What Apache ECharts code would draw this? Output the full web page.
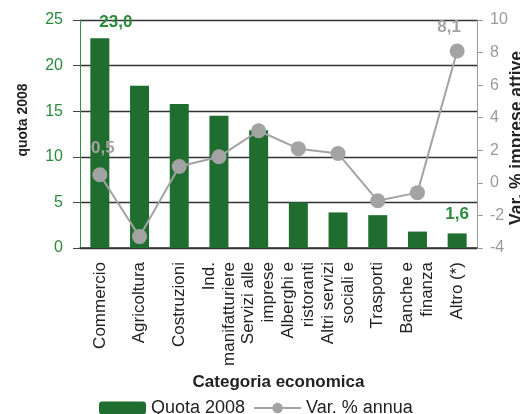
<!DOCTYPE html>
<html>
<head>
<meta charset="utf-8">
<script src="https://cdn.jsdelivr.net/npm/echarts@6/dist/echarts.min.js"></script>
<style>
  html, body { margin: 0; padding: 0; background: #fff; }
  #chart { width: 520px; height: 414px; }
</style>
</head>
<body>
<div id="chart"></div>
<script>
// Economic categories along the x axis
var categories = [
  'Commercio', 'Agricoltura', 'Costruzioni', 'Ind.\nmanifatturiere',
  'Servizi alle\nimprese', 'Alberghi e\nristoranti', 'Altri servizi\nsociali e',
  'Trasporti', 'Banche e\nfinanza', 'Altro (*)'
];
// Share of firms in 2008 (left axis, bars)
var quota2008 = [23.0, 17.8, 15.8, 14.5, 12.9, 5.0, 3.9, 3.6, 1.8, 1.6];
// Annual % change of active firms (right axis, line)
var varAnnua = [0.5, -3.3, 1.0, 1.6, 3.2, 2.1, 1.8, -1.1, -0.6, 8.1];
// Axis ranges
var leftTicks = { min: 0, max: 25, interval: 5 };
var rightTicks = { min: -4, max: 10, interval: 2 };

var FONT = '"Liberation Sans", Arial, Helvetica, sans-serif';
var GREEN = '#1f6e2f';
var GREEN_TXT = '#2b8a3c';
var GREY = '#a3a3a3';

function comma(v) { return v.toFixed(1).replace('.', ','); }

var last = categories.length - 1;

var barData = quota2008.map(function (v, i) {
  if (i === 0) {
    return { value: v, label: { show: true, offset: [16, -2] } };
  }
  if (i === last) {
    return { value: v, label: { show: true, offset: [0, -6] } };
  }
  return v;
});

var lineData = varAnnua.map(function (v, i) {
  if (i === 0) {
    return { value: v, label: { show: true, offset: [3, -5] } };
  }
  if (i === last) {
    return { value: v, label: { show: true, offset: [-8, -3] } };
  }
  return v;
});

var chart = echarts.init(document.getElementById('chart'));
chart.setOption({
  animation: false,
  textStyle: { fontFamily: FONT },
  grid: { left: 80, right: 43, top: 20, bottom: 166, outerBoundsMode: 'none', containLabel: false },
  legend: {
    left: 94,
    top: 394,
    itemWidth: 47,
    itemHeight: 13,
    itemGap: 8,
    textStyle: { fontFamily: FONT, fontSize: 18, color: '#222' },
    data: ['Quota 2008', 'Var. % annua']
  },
  xAxis: {
    type: 'category',
    data: categories,
    name: 'Categoria economica',
    nameLocation: 'middle',
    nameGap: 124,
    nameTextStyle: { fontFamily: FONT, fontSize: 17, fontWeight: 'bold', color: '#222' },
    axisLine: { show: true, lineStyle: { color: '#333', width: 1.5 } },
    axisTick: { show: false },
    axisLabel: {
      rotate: 90,
      interval: 0,
      margin: 14,
      fontFamily: FONT,
      fontSize: 17,
      lineHeight: 20,
      color: '#222'
    }
  },
  yAxis: [
    {
      type: 'value',
      min: leftTicks.min,
      max: leftTicks.max,
      interval: leftTicks.interval,
      name: 'quota 2008',
      nameLocation: 'middle',
      nameGap: 50,
      nameRotate: 90,
      nameMoveOverlap: false,
      nameTextStyle: { fontFamily: FONT, fontSize: 14, fontWeight: 'bold', color: '#222', padding: [0, 0, 0, 28] },
      axisLine: { show: true, lineStyle: { color: '#3a8f47', width: 1 } },
      axisTick: { show: true, length: 7, lineStyle: { color: '#444' } },
      axisLabel: { fontFamily: FONT, fontSize: 16, color: GREEN_TXT, margin: 17 },
      splitLine: { show: true, lineStyle: { color: '#333', width: 1.3 } }
    },
    {
      type: 'value',
      position: 'right',
      min: rightTicks.min,
      max: rightTicks.max,
      interval: rightTicks.interval,
      name: 'Var. % imprese attive',
      nameLocation: 'middle',
      nameGap: 31,
      nameRotate: 90,
      nameMoveOverlap: false,
      nameTextStyle: { fontFamily: FONT, fontSize: 17.5, fontWeight: 'bold', color: '#222', padding: [0, 8, 0, 0] },
      axisLine: { show: true, lineStyle: { color: '#9a9a9a', width: 1 } },
      axisTick: { show: true, length: 6, lineStyle: { color: '#9a9a9a' } },
      axisLabel: { fontFamily: FONT, fontSize: 16, color: '#9a9a9a', margin: 13 },
      splitLine: { show: false }
    }
  ],
  series: [
    {
      name: 'Quota 2008',
      type: 'bar',
      yAxisIndex: 0,
      barWidth: 19,
      itemStyle: { color: GREEN },
      label: {
        show: false,
        position: 'top',
        fontFamily: FONT,
        fontSize: 17,
        fontWeight: 'bold',
        color: GREEN_TXT,
        formatter: function (p) { return comma(p.value); }
      },
      data: barData,
      z: 2
    },
    {
      name: 'Var. % annua',
      type: 'line',
      yAxisIndex: 1,
      symbol: 'circle',
      symbolSize: 15,
      itemStyle: { color: GREY },
      lineStyle: { color: GREY, width: 2 },
      label: {
        show: false,
        position: 'top',
        fontFamily: FONT,
        fontSize: 17,
        fontWeight: 'bold',
        color: GREY,
        formatter: function (p) { return comma(p.value); }
      },
      data: lineData,
      z: 3
    }
  ]
});
</script>
</body>
</html>
